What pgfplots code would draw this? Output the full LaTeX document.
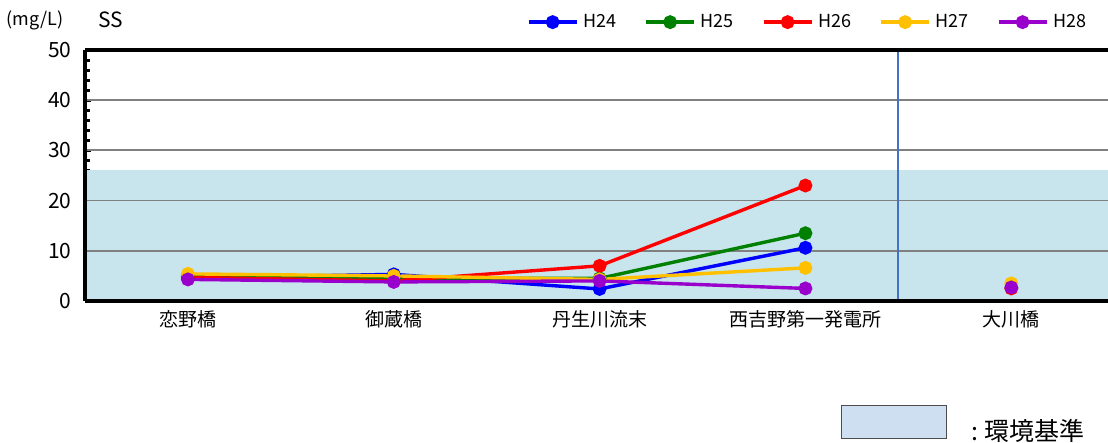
\documentclass[border=0pt]{standalone}
\usepackage{pgfplots}
\pgfplotsset{compat=1.18}
\usepackage{fontspec}
\setmainfont{Noto Sans CJK JP}
\definecolor{band}{HTML}{C8E4EC}
\definecolor{boxc}{HTML}{CDDFF0}
\definecolor{cH24}{HTML}{0000FF}
\definecolor{cH25}{HTML}{008000}
\definecolor{cH26}{HTML}{FF0000}
\definecolor{cH27}{HTML}{FFC000}
\definecolor{cH28}{HTML}{9900CC}
\definecolor{vline}{HTML}{4472C4}
\begin{document}
\begin{tikzpicture}
\path[use as bounding box] (0pt,0pt) rectangle (1108pt,443pt);
\begin{axis}[
  at={(85pt,142pt)}, anchor=south west,
  scale only axis, width=1023pt, height=251pt,
  xmin=-0.5, xmax=4.47, ymin=0, ymax=50,
  axis x line=box, axis y line*=left,
  axis line style={black, line width=3.5pt},
  every outer x axis line/.append style={black, line width=3.5pt},
  every outer y axis line/.append style={black, line width=3.5pt},
  xtick={0,1,2,3,4},
  xticklabels={恋野橋,御蔵橋,丹生川流末,西吉野第一発電所,大川橋},
  x tick label style={font=\fontsize{19}{22}\selectfont, yshift=-6pt},
  major x tick style={draw=none},
  ytick={0,10,20,30,40,50},
  minor y tick num=4,
  tick align=inside,
  major tick length=6pt, minor tick length=5pt,
  y tick style={black, line width=3pt},
  y tick label style={font=\fontsize{21}{24}\selectfont, xshift=-10pt},
  /pgf/number format/assume math mode=true,
  unbounded coords=jump,
  every axis plot/.append style={line width=3.4pt, mark=*, mark size=5.2pt},
  legend columns=5,
  legend style={at={(0.432,1.111)}, anchor=west, draw=none, fill=none,
    font=\fontsize{18}{20}\selectfont, column sep=3pt, inner sep=0pt, outer sep=0pt,
    /tikz/every even column/.append style={column sep=26pt}},
  legend image code/.code={\draw[#1,mark repeat=2,mark phase=2] plot coordinates {(0pt,0pt) (24pt,0pt) (48pt,0pt)};},
]
\fill[band] (axis cs:-0.5,0) rectangle (axis cs:4.47,26);
\foreach \g in {10,20,30,40}{\edef\tmp{\noexpand\draw[gray, line width=1.8pt] (axis cs:-0.5,\g) -- (axis cs:4.47,\g);}\tmp}
\draw[vline, line width=1.5pt] (axis cs:3.45,0) -- (axis cs:3.45,50);
\addplot[cH24, mark options={fill=cH24}] coordinates {(0,4.6) (1,5.3) (2,2.4) (3,10.6)};
\addlegendentry{H24}
\addplot[cH25, mark options={fill=cH25}] coordinates {(0,4.9) (1,4.5) (2,4.5) (3,13.5)};
\addlegendentry{H25}
\addplot[cH26, mark options={fill=cH26}] coordinates {(0,4.7) (1,4.0) (2,7.0) (3,23.0) (3.5,nan) (4,2.5)};
\addlegendentry{H26}
\addplot[cH27, mark options={fill=cH27}] coordinates {(0,5.4) (1,5.0) (2,4.3) (3,6.6) (3.5,nan) (4,3.5)};
\addlegendentry{H27}
\addplot[cH28, mark options={fill=cH28}] coordinates {(0,4.3) (1,3.8) (2,4.0) (3,2.5) (3.5,nan) (4,2.7)};
\addlegendentry{H28}
\draw[black, line width=3.5pt] (axis cs:-0.5,50) -- (axis cs:4.47,50);
\draw[black, line width=3.5pt] (axis cs:-0.5,0) -- (axis cs:4.47,0);
\draw[black, line width=3.5pt] (axis cs:-0.5,0) -- (axis cs:-0.5,50);
\end{axis}
\node[anchor=west, font=\fontsize{18}{20}\selectfont] at (3pt,423pt) {(mg/L)};
\node[anchor=west, font=\fontsize{21}{24}\selectfont] at (95pt,423pt) {SS};
\draw[fill=boxc, draw=black!70, line width=1pt] (841pt,4pt) rectangle (946pt,37pt);
\node[anchor=west, font=\fontsize{25}{27}\selectfont] at (968pt,12pt) {:\hspace{6pt}環境基準};
\end{tikzpicture}
\end{document}
